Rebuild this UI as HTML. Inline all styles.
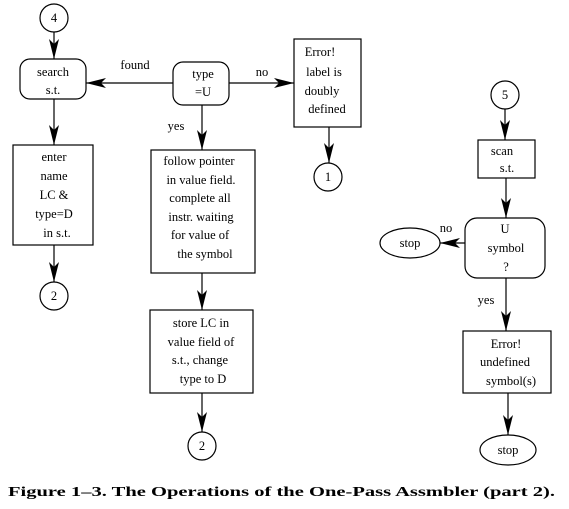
<!DOCTYPE html>
<html><head><style>
html,body{margin:0;padding:0;background:#fff;}
svg text{font-family:"Liberation Serif",serif;font-size:12.5px;fill:#000;}
</style></head><body>
<svg width="569" height="504" viewBox="0 0 569 504" xmlns="http://www.w3.org/2000/svg">
<defs>
<marker id="a" markerWidth="20" markerHeight="10" refX="20" refY="5" orient="auto" markerUnits="userSpaceOnUse">
<path d="M0,0 L20,5 L0,10 L5,5 Z" fill="#000"/>
</marker>
</defs>
<g stroke="#000" stroke-width="1.2" fill="none">
<circle cx="54" cy="18" r="14"/>
<line x1="54" y1="32" x2="54" y2="59" marker-end="url(#a)"/>
<rect x="20" y="59" width="66" height="40" rx="10"/>
<rect x="173" y="62" width="56" height="43" rx="10"/>
<line x1="173" y1="83" x2="86" y2="83" marker-end="url(#a)"/>
<line x1="229" y1="83" x2="294" y2="83" marker-end="url(#a)"/>
<rect x="294" y="39" width="67" height="88"/>
<line x1="329" y1="127" x2="329" y2="163" marker-end="url(#a)"/>
<circle cx="328" cy="177" r="14"/>
<line x1="54" y1="99" x2="54" y2="145" marker-end="url(#a)"/>
<rect x="13" y="145" width="80" height="100"/>
<line x1="54" y1="245" x2="54" y2="282" marker-end="url(#a)"/>
<circle cx="54" cy="296" r="14"/>
<line x1="202" y1="105" x2="202" y2="150" marker-end="url(#a)"/>
<rect x="151" y="150" width="104" height="123"/>
<line x1="202" y1="273" x2="202" y2="310" marker-end="url(#a)"/>
<rect x="150" y="310" width="103" height="83"/>
<line x1="202" y1="393" x2="202" y2="432" marker-end="url(#a)"/>
<circle cx="202" cy="446" r="14"/>
<circle cx="505" cy="95" r="14"/>
<line x1="505" y1="109" x2="505" y2="140" marker-end="url(#a)"/>
<rect x="478" y="140" width="57" height="38"/>
<line x1="506" y1="178" x2="506" y2="218" marker-end="url(#a)"/>
<rect x="465" y="218" width="80" height="60" rx="12"/>
<line x1="465" y1="243" x2="440" y2="243" marker-end="url(#a)"/>
<ellipse cx="410" cy="243" rx="30" ry="15"/>
<line x1="506" y1="278" x2="506" y2="331" marker-end="url(#a)"/>
<rect x="463" y="331" width="88" height="62"/>
<line x1="508" y1="393" x2="508" y2="435" marker-end="url(#a)"/>
<ellipse cx="508" cy="450" rx="28" ry="15"/>
</g>
<g text-anchor="middle">
<text x="54" y="22">4</text>
<text x="53" y="76">search</text><text x="53" y="94">s.t.</text>
<text x="135" y="69">found</text>
<text x="203" y="78">type</text><text x="203" y="96">=U</text>
<text x="262" y="76">no</text>
<text x="320" y="56">Error!</text><text x="324" y="76">label is</text><text x="322" y="95">doubly</text><text x="327" y="113">defined</text>
<text x="328" y="181">1</text>
<text x="54" y="161">enter</text><text x="54" y="180">name</text><text x="54" y="199">LC &amp;</text><text x="54" y="218">type=D</text><text x="57" y="237">in s.t.</text>
<text x="54" y="300">2</text>
<text x="176" y="130">yes</text>
<text x="199" y="165">follow pointer</text><text x="201" y="184">in value field.</text><text x="200" y="202">complete all</text><text x="201" y="221">instr. waiting</text><text x="200" y="239">for value of</text><text x="205" y="258">the symbol</text>
<text x="201" y="327">store LC in</text><text x="201" y="346">value field of</text><text x="200" y="364">s.t., change</text><text x="203" y="383">type to D</text>
<text x="202" y="450">2</text>
<text x="505" y="99">5</text>
<text x="502" y="155">scan</text><text x="507" y="172">s.t.</text>
<text x="505" y="233">U</text><text x="506" y="252">symbol</text><text x="506" y="271">?</text>
<text x="410" y="247">stop</text>
<text x="446" y="232">no</text>
<text x="486" y="304">yes</text>
<text x="506" y="348">Error!</text><text x="505" y="366">undefined</text><text x="511" y="385">symbol(s)</text>
<text x="508" y="454">stop</text>
</g>
<text x="8" y="496" textLength="547" lengthAdjust="spacingAndGlyphs" style="font-weight:bold;font-size:13.5px">Figure 1–3.  The Operations of the One-Pass Assmbler (part 2).</text>
</svg>
</body></html>
